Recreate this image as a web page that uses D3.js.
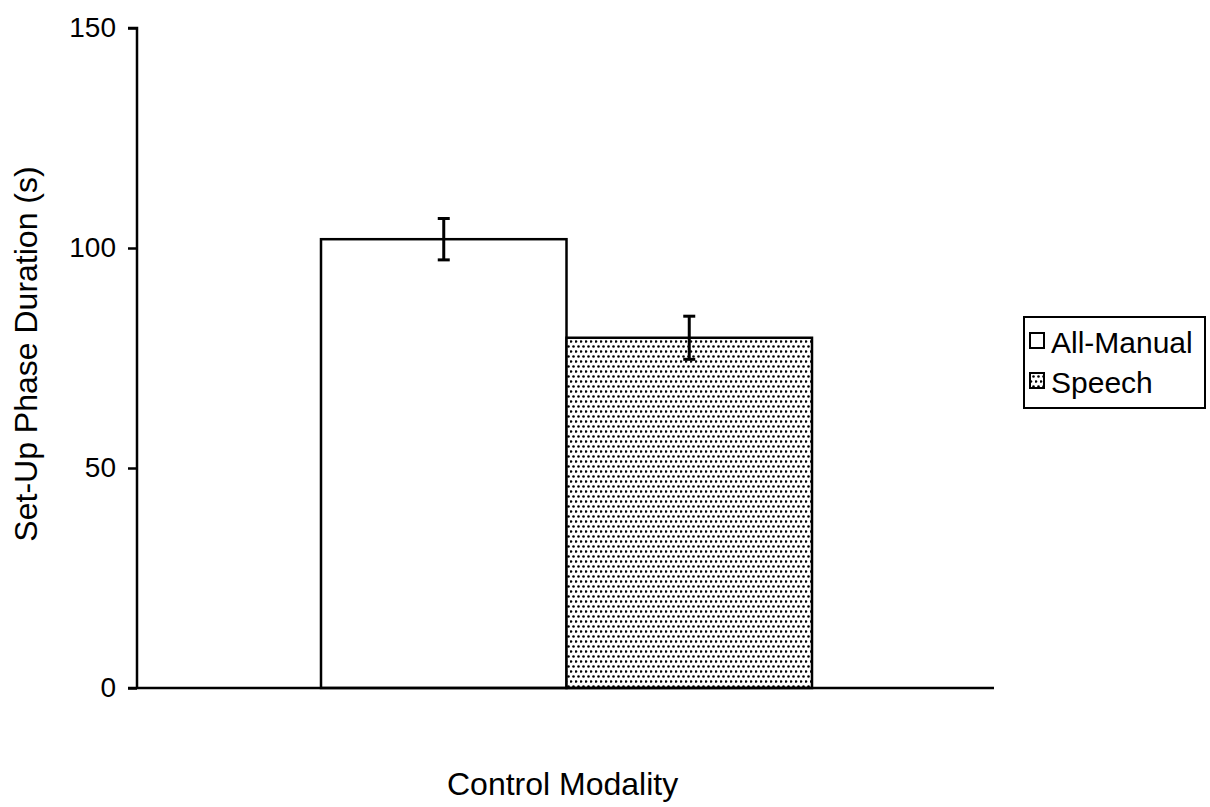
<!DOCTYPE html>
<html><head><meta charset="utf-8">
<script src="https://cdn.jsdelivr.net/npm/d3@7"></script>
<style>body{margin:0;background:#fff}svg{display:block}text{font-family:"Liberation Sans",Arial,sans-serif;fill:#000}</style>
</head><body><svg id="c" width="1210" height="807"></svg>
<script>
const categories = ["All-Manual", "Speech"];
const means = [102, 79.6];
const errors = [4.7, 4.9];
const yTicks = [0, 50, 100, 150];

const svg = d3.select("#c");
const defs = svg.append("defs");
const pat = defs.append("pattern").attr("id","dots").attr("patternUnits","userSpaceOnUse").attr("width",5).attr("height",10);
pat.append("rect").attr("width",5).attr("height",10).attr("fill","#fff");
pat.append("circle").attr("cx",1).attr("cy",1.5).attr("r",1.3).attr("fill","#000");
pat.append("circle").attr("cx",3.5).attr("cy",6.5).attr("r",1.3).attr("fill","#000");
const fills = ["#fff","url(#dots)"];

const y = d3.scaleLinear().domain([0,150]).range([688,28]);
const x = d3.scaleBand().domain(categories).range([321,812]).paddingInner(0).paddingOuter(0);

// y axis
const yAxis = d3.axisLeft(y).tickValues(yTicks).tickSize(9).tickPadding(12);
const gy = svg.append("g").attr("transform","translate(137,0)").call(yAxis).attr("font-size",28).attr("font-family","Liberation Sans, Arial, sans-serif");
gy.select(".domain").attr("stroke","#000").attr("stroke-width",2.5).attr("d","M-9,28H0V688");
gy.selectAll(".tick line").attr("stroke","#000").attr("stroke-width",2.5);
gy.selectAll(".tick text").style("font-size","28px");

// bars
svg.selectAll("rect.bar").data(categories).enter().append("rect").attr("class","bar")
  .attr("x",d=>x(d)).attr("width",x.bandwidth())
  .attr("y",(d,i)=>y(means[i])).attr("height",(d,i)=>y(0)-y(means[i]))
  .attr("fill",(d,i)=>fills[i]).attr("stroke","#000").attr("stroke-width",2.5);

// x axis line
svg.append("line").attr("x1",128).attr("x2",994).attr("y1",y(0)).attr("y2",y(0)).attr("stroke","#000").attr("stroke-width",2.5);

// error bars
const eg = svg.selectAll("g.err").data(categories).enter().append("g").attr("class","err");
eg.append("line").attr("x1",d=>x(d)+x.bandwidth()/2).attr("x2",d=>x(d)+x.bandwidth()/2)
  .attr("y1",(d,i)=>y(means[i]+errors[i])).attr("y2",(d,i)=>y(means[i]-errors[i])).attr("stroke","#000").attr("stroke-width",3);
[1,-1].forEach(s=>{
  eg.append("line").attr("x1",d=>x(d)+x.bandwidth()/2-6).attr("x2",d=>x(d)+x.bandwidth()/2+6)
    .attr("y1",(d,i)=>y(means[i]+s*errors[i])).attr("y2",(d,i)=>y(means[i]+s*errors[i])).attr("stroke","#000").attr("stroke-width",3);
});

// axis titles
svg.append("text").attr("x",447).attr("y",795).attr("text-anchor","start").style("font-size","32px").text("Control Modality");
svg.append("text").attr("transform","translate(37,354) rotate(-90)").attr("text-anchor","middle").style("font-size","32px").text("Set-Up Phase Duration (s)");

// legend
const lg = svg.append("g");
lg.append("rect").attr("x",1024).attr("y",317).attr("width",181).attr("height",91).attr("fill","#fff").attr("stroke","#000").attr("stroke-width",2);
categories.forEach((c,i)=>{
  const cy = 340 + i*40;
  lg.append("rect").attr("x",1030).attr("y",cy-7).attr("width",14).attr("height",15).attr("fill",fills[i]).attr("stroke","#000").attr("stroke-width",2);
  lg.append("text").attr("x",1051).attr("y",cy+13).style("font-size","30px").text(c);
});
</script></body></html>
